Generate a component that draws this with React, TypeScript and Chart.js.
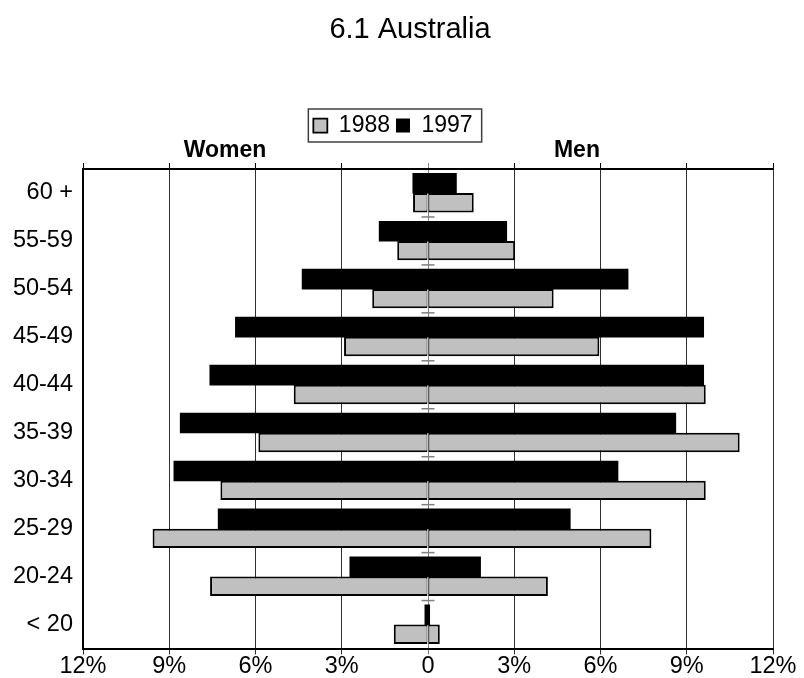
import React, { useEffect, useRef } from 'react';
import { Chart, registerables } from 'chart.js';

Chart.register(...registerables);

const chartTitle = '6.1 Australia';
const ageGroups = ['60 +', '55-59', '50-54', '45-49', '40-44', '35-39', '30-34', '25-29', '20-24', '< 20'];
const women1988 = [0.52, 1.07, 1.94, 2.92, 4.67, 5.9, 7.22, 9.58, 7.58, 1.19];
const men1988 = [1.59, 3.03, 4.37, 5.96, 9.66, 10.84, 9.66, 7.77, 4.17, 0.41];
const women1997 = [0.52, 1.69, 4.37, 6.69, 7.58, 8.61, 8.83, 7.29, 2.71, 0.1];
const men1997 = [0.98, 2.73, 6.95, 9.58, 9.58, 8.61, 6.6, 4.94, 1.82, 0.05];
const xTickLabels = ['12%', '9%', '6%', '3%', '0', '3%', '6%', '9%', '12%'];
const sideLabels = ['Women', 'Men'];
const sideLabelValues = [-7.06, 5.18];
const seriesNames = ['1988', '1997'];

const FONT = '"Liberation Sans", Arial, Helvetica, sans-serif';
const GRAY = '#c0c0c0';

const decorPlugin = {
  id: 'decor',
  afterDatasetsDraw(chart: any) {
    const { ctx, scales } = chart;
    const x = scales.x;
    const y = scales.y;
    const x0 = x.getPixelForValue(0);
    ctx.save();
    ctx.strokeStyle = '#808080';
    ctx.lineWidth = 1.5;
    for (let i = 1; i < ageGroups.length; i++) {
      const yy = (y.getPixelForValue(i - 1) + y.getPixelForValue(i)) / 2;
      ctx.beginPath();
      ctx.moveTo(x0 - 6.5, yy);
      ctx.lineTo(x0 + 6.5, yy);
      ctx.stroke();
    }
    ctx.restore();
  },
  afterDraw(chart: any) {
    const { ctx, scales, chartArea } = chart;
    const x = scales.x;
    ctx.save();
    ctx.fillStyle = '#000';
    ctx.font = `29px ${FONT}`;
    ctx.textAlign = 'center';
    ctx.textBaseline = 'alphabetic';
    ctx.fillText(chartTitle, chart.width / 2 + 8, 38);
    ctx.font = `bold 23px ${FONT}`;
    sideLabels.forEach((t, i) => {
      ctx.fillText(t, x.getPixelForValue(sideLabelValues[i]), chartArea.top - 12);
    });
    const hb = chart.legend && chart.legend.legendHitBoxes;
    if (hb && hb.length) {
      const left = Math.min(...hb.map((h: any) => h.left)) - 5;
      const right = Math.max(...hb.map((h: any) => h.left + h.width)) + 9;
      const cy = hb[0].top + hb[0].height / 2;
      ctx.strokeStyle = '#404040';
      ctx.lineWidth = 1.5;
      ctx.strokeRect(left, cy - 16.5, right - left, 33);
    }
    ctx.restore();
  },
};

export default function App() {
  const ref = useRef<HTMLCanvasElement>(null);
  useEffect(() => {
    Chart.defaults.font.family = FONT;
    Chart.defaults.color = '#000';
    const common = { barPercentage: 1, categoryPercentage: 0.81, borderSkipped: false as const };
    const chart = new Chart(ref.current as HTMLCanvasElement, {
      type: 'bar',
      data: {
        labels: ageGroups,
        datasets: [
          {
            ...common,
            label: seriesNames[1],
            stack: 's1997',
            data: women1997.map((v) => -v),
            backgroundColor: '#000',
            borderColor: '#000',
            borderWidth: 0,
            inflateAmount: 0.6,
          },
          {
            ...common,
            label: seriesNames[1],
            stack: 's1997',
            data: men1997,
            backgroundColor: '#000',
            borderColor: '#000',
            borderWidth: 0,
            inflateAmount: 0.6,
          },
          {
            ...common,
            label: seriesNames[0],
            stack: 's1988',
            data: women1988.map((v) => -v),
            backgroundColor: GRAY,
            borderColor: '#000',
            borderWidth: { top: 2, bottom: 2, left: 2, right: 1 },
            inflateAmount: 0,
          },
          {
            ...common,
            label: seriesNames[0],
            stack: 's1988',
            data: men1988,
            backgroundColor: GRAY,
            borderColor: '#000',
            borderWidth: { top: 2, bottom: 2, left: 1, right: 2 },
            inflateAmount: 0,
          },
        ] as any,
      },
      options: {
        indexAxis: 'y',
        animation: false,
        responsive: true,
        maintainAspectRatio: false,
        events: [],
        layout: { padding: { top: 108, left: 13, right: 31, bottom: 0 } },
        plugins: {
          title: { display: false },
          tooltip: { enabled: false },
          legend: {
            display: true,
            position: 'top',
            labels: {
              boxWidth: 14,
              boxHeight: 14,
              padding: 6,
              color: '#000',
              font: { size: 23, family: FONT },
              filter: (item: any) => item.datasetIndex === 1 || item.datasetIndex === 3,
              sort: (a: any, b: any) => b.datasetIndex - a.datasetIndex,
            },
          },
        },
        scales: {
          x: {
            type: 'linear',
            position: 'bottom',
            stacked: true,
            min: -12,
            max: 12,
            ticks: {
              stepSize: 3,
              color: '#000',
              padding: 0,
              maxRotation: 0,
              autoSkip: false,
              font: { size: 23.5, lineHeight: 1, family: FONT },
              callback: (_v: any, i: number) => xTickLabels[i],
            },
            grid: {
              color: (c: any) => (c.tick && c.tick.value === 0 ? '#808080' : '#303030'),
              lineWidth: 1,
              drawTicks: true,
              tickLength: 6,
            },
            border: { display: true, color: '#000', width: 2 },
          },
          x2: {
            type: 'linear',
            position: 'top',
            min: -12,
            max: 12,
            ticks: { display: false, stepSize: 3 },
            grid: {
              drawOnChartArea: false,
              drawTicks: true,
              tickLength: 6,
              color: (c: any) => (c.tick && c.tick.value === 0 ? '#808080' : '#000'),
              lineWidth: 1,
            },
            border: { display: true, color: '#000', width: 2 },
            afterFit: (s: any) => {
              s.height = 22;
            },
          },
          y: {
            type: 'category',
            grid: { display: false, drawTicks: false },
            border: { display: true, color: '#000', width: 2 },
            ticks: { color: '#000', padding: 10, font: { size: 23.5, family: FONT } },
            afterFit: (s: any) => {
              s.width = 70;
            },
          },
        } as any,
      },
      plugins: [decorPlugin],
    } as any);
    return () => chart.destroy();
  }, []);
  return (
    <div style={{ position: 'absolute', left: 0, top: 0, width: 804, height: 678, background: '#fff' }}>
      <canvas ref={ref} />
    </div>
  );
}
